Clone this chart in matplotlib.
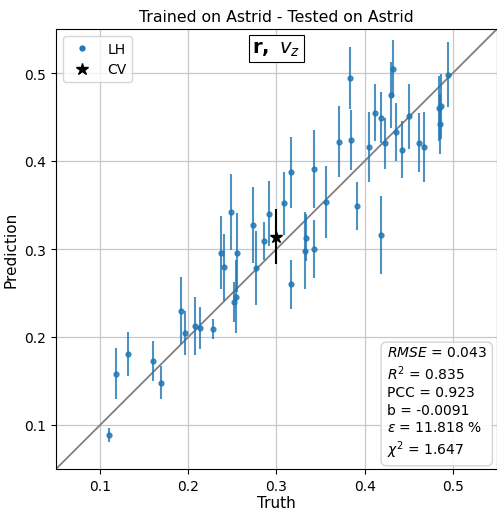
import matplotlib
matplotlib.use("Agg")
import matplotlib.pyplot as plt
from matplotlib.lines import Line2D
import numpy as np

# LH simulations: truth, prediction, prediction uncertainty
lh_truth = [0.110, 0.118, 0.132, 0.160, 0.169, 0.192, 0.196, 0.208, 0.213, 0.228,
            0.2375, 0.2405, 0.248, 0.252, 0.254, 0.255, 0.273, 0.277, 0.286, 0.291,
            0.308, 0.317, 0.317, 0.332, 0.334, 0.342, 0.343, 0.356, 0.371, 0.383,
            0.384, 0.391, 0.405, 0.412, 0.418, 0.419, 0.423, 0.430, 0.432, 0.436,
            0.442, 0.450, 0.462, 0.467, 0.484, 0.486, 0.485, 0.494]
lh_pred = [0.089, 0.158, 0.181, 0.173, 0.148, 0.230, 0.205, 0.212, 0.210, 0.209,
           0.296, 0.279, 0.342, 0.240, 0.246, 0.296, 0.327, 0.278, 0.309, 0.340,
           0.352, 0.387, 0.260, 0.298, 0.313, 0.300, 0.391, 0.353, 0.422, 0.494,
           0.424, 0.349, 0.416, 0.455, 0.316, 0.449, 0.420, 0.475, 0.505, 0.433,
           0.413, 0.451, 0.421, 0.416, 0.460, 0.462, 0.442, 0.498]
lh_err = [0.008, 0.029, 0.025, 0.023, 0.019, 0.038, 0.025, 0.033, 0.024, 0.011,
          0.041, 0.038, 0.043, 0.023, 0.041, 0.045, 0.043, 0.042, 0.022, 0.037,
          0.036, 0.040, 0.028, 0.044, 0.027, 0.033, 0.044, 0.041, 0.040, 0.035,
          0.034, 0.027, 0.040, 0.032, 0.044, 0.029, 0.029, 0.038, 0.032, 0.033,
          0.032, 0.037, 0.034, 0.040, 0.037, 0.037, 0.034, 0.037]

# CV simulation
cv_truth = [0.300]
cv_pred = [0.314]
cv_err = [0.031]

lims = [0.05, 0.55]
ticks = [0.1, 0.2, 0.3, 0.4, 0.5]

stats_lines = [r"$RMSE$ = 0.043", r"$R^2$ = 0.835", "PCC = 0.923",
               "b = -0.0091", r"$\epsilon$ = 11.818 %", r"$\chi^2$ = 1.647"]

fig = plt.figure(figsize=(4.97, 5.10), dpi=100)
ax = fig.add_axes([56/497, 40/510, 441/497, 440/510])

ax.plot(lims, lims, color="grey", lw=1.3, zorder=1)
ax.errorbar(lh_truth, lh_pred, yerr=lh_err, fmt="o", ms=3.5, color="#1f77b4",
            elinewidth=1.5, alpha=0.8, zorder=3)
ax.errorbar(cv_truth, cv_pred, yerr=cv_err, fmt="*", ms=9, color="black",
            elinewidth=1.5, zorder=4)

ax.set_xlim(lims)
ax.set_ylim(lims)
ax.set_xticks(ticks)
ax.set_yticks(ticks)
ax.tick_params(labelsize=10)
ax.grid(True, color="#c8c8c8", lw=0.9)
ax.set_axisbelow(True)
ax.set_xlabel("Truth", fontsize=11, labelpad=2)
ax.set_ylabel("Prediction", fontsize=11)
ax.set_title("Trained on Astrid - Tested on Astrid", fontsize=11.3)

handles = [Line2D([], [], ls="none", marker="o", ms=3.5, color="#1f77b4"),
           Line2D([], [], ls="none", marker="*", ms=9, color="black")]
ax.legend(handles, ["LH", "CV"], loc="upper left", fontsize=10)

ax.text(0.5, 0.955, r"$\mathbf{r,}\ v_z$", transform=ax.transAxes, fontsize=14,
        ha="center", va="center",
        bbox=dict(boxstyle="square,pad=0.2", fc="white", ec="black", lw=0.8))

ax.text(0.977, 0.02, "\n".join(stats_lines), transform=ax.transAxes, fontsize=10,
        ha="right", va="bottom", multialignment="left", linespacing=1.3,
        bbox=dict(boxstyle="round,pad=0.4", fc="white", ec="#d0d0d0", alpha=0.9))

fig.savefig("out.png", dpi=100)
